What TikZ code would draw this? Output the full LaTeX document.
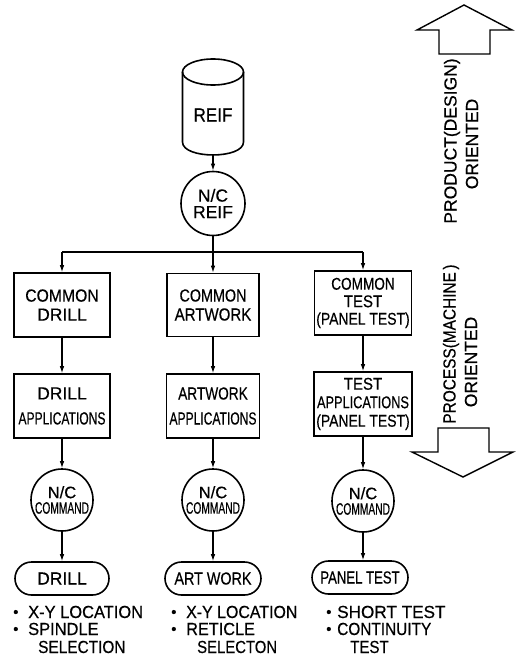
\documentclass[tikz,border=0pt]{standalone}
\usepackage{fontspec}
\usepackage{graphicx}
\setmainfont{Liberation Sans}[FakeBold=0.5]
\usetikzlibrary{arrows.meta,shapes.misc}
\newcommand\hsq[2]{\scalebox{#1}[1]{#2}}
\newcommand\bul[1][15pt]{\makebox[#1][l]{\fontsize{15}{15}\selectfont\raisebox{1pt}{•}}}
\begin{document}
\begin{tikzpicture}[x=1pt,y=-1pt,
  font=\fontsize{17.5}{19}\selectfont,
  box/.style={draw,line width=1.6pt,inner sep=0pt,align=center},
  circ/.style={draw,circle,line width=1.6pt,inner sep=0pt,minimum size=62pt,align=center},
  term/.style={draw,rounded rectangle,line width=1.6pt,inner sep=0pt,minimum height=33pt},
  conn/.style={line width=1.1pt,-{Latex[length=7pt,width=4.5pt]}},
  wire/.style={line width=1.1pt},
  fat/.style={line width=1.4pt,line join=miter},
  lbl/.style={inner sep=0pt,anchor=base west},
  vlbl/.style={inner sep=0pt,rotate=90},
  cmd/.style={circ,font=\fontsize{16.5}{15.5}\selectfont}]
\useasboundingbox (0,0) rectangle (515,658);

% cylinder REIF
\draw[line width=1.6pt] (213,72) ellipse [x radius=30.5, y radius=13];
\draw[line width=1.6pt] (182.5,72) -- (182.5,142) .. controls (182.5,159.3) and (243.5,159.3) .. (243.5,142) -- (243.5,72);
\node[inner sep=0pt,minimum width=61pt,minimum height=80pt,font=\fontsize{19}{19}\selectfont] (reif) at (213,115) {\hsq{0.9}{REIF}};

\node[circ,minimum size=64pt,font=\fontsize{17.5}{16.5}\selectfont] (ncreif) at (213,203.5) {N/C\\REIF};

% row 1
\node[box,minimum width=96pt,minimum height=64pt] (cdrill) at (62,305) {\hsq{0.9}{COMMON}\\DRILL};
\node[box,minimum width=92pt,minimum height=63pt] (cart) at (213,305) {\hsq{0.82}{COMMON}\\\hsq{0.86}{ARTWORK}};
\node[box,minimum width=97pt,minimum height=64pt,font=\fontsize{17}{17.5}\selectfont] (ctest) at (363,303) {\hsq{0.8}{COMMON}\\\hsq{0.88}{TEST}\\\hsq{0.82}{(PANEL TEST)}};

% row 2
\node[box,minimum width=96pt,minimum height=64pt,font=\fontsize{17.5}{25}\selectfont] (adrill) at (62,406) {DRILL\\\hsq{0.69}{APPLICATIONS}};
\node[box,minimum width=93pt,minimum height=64pt,font=\fontsize{17.5}{25}\selectfont] (aart) at (213,406) {\hsq{0.78}{ARTWORK}\\\hsq{0.69}{APPLICATIONS}};
\node[box,minimum width=98pt,minimum height=64pt,font=\fontsize{17}{18.5}\selectfont] (atest) at (363,404) {\hsq{0.88}{TEST}\\\hsq{0.75}{APPLICATIONS}\\\hsq{0.82}{(PANEL TEST)}};

% row 3
\node[cmd] (kdrill) at (62,500) {N/C\\\hsq{0.62}{COMMAND}};
\node[cmd] (kart) at (213,500) {N/C\\\hsq{0.62}{COMMAND}};
\node[cmd] (ktest) at (363,501) {N/C\\\hsq{0.62}{COMMAND}};

% row 4
\node[term,minimum width=94pt] (tdrill) at (62,578.5) {DRILL};
\node[term,minimum width=96pt] (tart) at (213,578.5) {\hsq{0.82}{ART WORK}};
\node[term,minimum width=96pt] (ttest) at (360,577.5) {\hsq{0.75}{PANEL TEST}};

% connectors
\draw[conn] (reif.south) -- (ncreif.north);
\coordinate (split) at (213,252);
\draw[wire] (cdrill.north |- split) -- (ctest.north |- split);
\draw[conn] (ncreif.south) -- (cart.north);
\draw[conn] (cdrill.north |- split) -- (cdrill.north);
\draw[conn] (ctest.north |- split) -- (ctest.north);
\draw[conn] (cdrill.south) -- (adrill.north);
\draw[conn] (cart.south) -- (aart.north);
\draw[conn] (ctest.south) -- (atest.north);
\draw[conn] (adrill.south) -- (kdrill.north);
\draw[conn] (aart.south) -- (kart.north);
\draw[conn] (atest.south) -- (ktest.north);
\draw[conn] (kdrill.south) -- (tdrill.north);
\draw[conn] (kart.south) -- (tart.north);
\draw[conn] (ktest.south) -- (ktest.south |- ttest.north);

% bullet lists
\node[lbl] (b1) at (13,618) {\bul\hsq{0.94}{X-Y LOCATION}};
\node[lbl] (b2) at (13,635) {\bul\hsq{0.94}{SPINDLE}};
\node[lbl] (b3) at (38,653) {\hsq{0.88}{SELECTION}};
\node[lbl] (b4) at (171,618) {\bul\hsq{0.91}{X-Y LOCATION}};
\node[lbl] (b5) at (171,635) {\bul\hsq{0.93}{RETICLE}};
\node[lbl] (b6) at (197,653) {\hsq{0.85}{SELECTON}};
\node[lbl] (b7) at (326,618) {\bul[11pt]\hsq{0.98}{SHORT TEST}};
\node[lbl] (b8) at (326,635) {\bul[11pt]\hsq{0.88}{CONTINUITY}};
\node[lbl] (b9) at (350,653) {\hsq{0.86}{TEST}};

% big arrows
\draw[fat] (439,54) -- (439,30) -- (417,30) -- (464,5) -- (512,30) -- (490,30) -- (490,54) -- cycle;
\draw[fat] (438,428) -- (489,428) -- (489,452) -- (513,452) -- (463,477) -- (412,452) -- (438,452) -- cycle;

% vertical labels
\node[vlbl] (v1) at (452,141) {PRODUCT(DESIGN)};
\node[vlbl] (v2) at (472,144) {ORIENTED};
\node[vlbl] (v3) at (451,344) {\hsq{0.88}{PROCESS(MACHINE\,)}};
\node[vlbl] (v4) at (471,362) {ORIENTED};
\end{tikzpicture}
\end{document}
